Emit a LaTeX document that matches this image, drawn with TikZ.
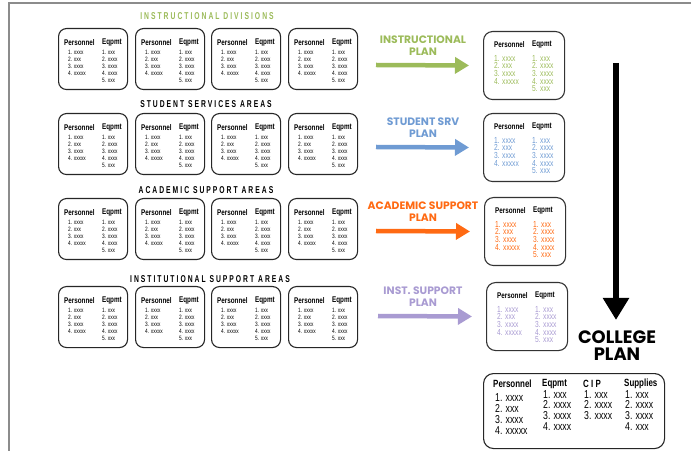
\documentclass[tikz,border=0pt]{standalone}
\usepackage{fontspec}
\usepackage{tikz}
\usetikzlibrary{arrows.meta}
\setmainfont{Liberation Sans}
\newfontfamily\condfont{Liberation Sans}[FakeStretch=0.76]
\newfontfamily\spacedfont{Liberation Sans}[FakeStretch=0.68, LetterSpace=20]
\newfontfamily\planfont{Poppins}
\definecolor{instgreen}{HTML}{9CBB5A}
\definecolor{srvblue}{HTML}{6F9BD3}
\definecolor{acadorange}{HTML}{FF6A13}
\definecolor{instpurple}{HTML}{A99BD2}
\definecolor{framegray}{HTML}{8C8C8C}

\tikzset{
  areabox/.style={draw=black!85, line width=1.1bp, rounded corners=8bp, minimum width=69bp, minimum height=61bp, anchor=north west, inner sep=0},
  planbox/.style={draw=black!80, line width=1.1bp, rounded corners=9bp, minimum width=81bp, minimum height=68bp, anchor=north west, inner sep=0},
  collegebox/.style={draw=black!85, line width=1.1bp, rounded corners=10bp, minimum width=181bp, minimum height=75bp, anchor=north west, inner sep=0},
  boxhead/.style={inner sep=0, anchor=west, font=\condfont\bfseries\fontsize{8.3}{9}\selectfont},
  smalllist/.style={inner sep=0, anchor=north west, align=left, font=\condfont\fontsize{6.3}{7}\selectfont},
  planlist/.style={inner sep=0, anchor=north west, align=left, font=\condfont\fontsize{8.8}{7.7}\selectfont},
  collegelist/.style={inner sep=0, anchor=north west, align=left, font=\condfont\fontsize{11.5}{11}\selectfont},
  areatitle/.style={inner sep=0, font=\spacedfont\bfseries\fontsize{10}{11}\selectfont},
  plantitle/.style={inner sep=0, align=center, font=\planfont\bfseries\fontsize{10.8}{11.5}\selectfont},
  planarrow/.style={line width=4.5bp, -{Triangle[width=16bp,length=14bp]}, shorten >=14bp},
}

\begin{document}
\begin{tikzpicture}[x=1bp, y={(0bp,-1bp)}]
  \useasboundingbox (0,0) rectangle (691,451);

  % Cadre de la page
  \draw[framegray, line width=1.2bp] (9,451) -- (9,3) -- (691,3);

  % Rangées des secteurs
  \foreach \r/\ty/\tty/\tx/\tcol/\ttl in {
      1/28/16/207/instgreen/INSTRUCTIONAL DIVISIONS,
      2/113/104/206/black/STUDENT SERVICES AREAS,
      3/198/190/206/black/ACADEMIC SUPPORT AREAS,
      4/286/279/210/black/INSTITUTIONAL SUPPORT AREAS} {
    \node[areatitle, text=\tcol] (title-\r) at (\tx,\tty) {\ttl};
    \foreach \c/\bx in {1/58,2/135,3/211,4/288} {
      \node[areabox] (area-\r-\c) at (\bx,\ty) {};
      \node[boxhead] (ap-\r-\c) at (\bx+6,\ty+15) {Personnel};
      \node[boxhead] (ae-\r-\c) at (\bx+44,\ty+15) {Eqpmt};
      \node[smalllist] (al-\r-\c) at (\bx+10,\ty+22) {1. xxxx\\2. xxx\\3. xxxx\\4. xxxxx};
      \node[smalllist] (ar-\r-\c) at (\bx+44,\ty+22) {1. xxx\\2. xxxx\\3. xxxx\\4. xxxx\\5. xxx};
    }
  }

  % Plans et flèches
  \foreach \p/\py/\px/\ax/\pcol/\plab in {
      1/31/483/376/instgreen/INSTRUCTIONAL\\PLAN,
      2/113/483/376/srvblue/STUDENT SRV\\PLAN,
      3/197/484/376/acadorange/ACADEMIC SUPPORT\\PLAN,
      4/282/486/378/instpurple/INST. SUPPORT\\PLAN} {
    \node[planbox] (plan-\p) at (\px,\py) {};
    \node[boxhead] (pp-\p) at (\px+11,\py+14) {Personnel};
    \node[boxhead] (pe-\p) at (\px+49,\py+14) {Eqpmt};
    \node[planlist, text=\pcol] (pl-\p) at (\px+11,\py+24) {1. xxxx\\2. xxx\\3. xxxx\\4. xxxxx};
    \node[planlist, text=\pcol] (pr-\p) at (\px+49,\py+24) {1. xxx\\2. xxxx\\3. xxxx\\4. xxxx\\5. xxx};
    \coordinate (start-\p) at (\ax,\py+34);
    \draw[planarrow, \pcol] (start-\p) -- (plan-\p.west);
    \node[plantitle, text=\pcol] (plab-\p) at (423,\py+14.5) {\plab};
  }

  % Plan du collège
  \node[inner sep=0, align=center, font=\planfont\bfseries\fontsize{18}{17}\selectfont] (college) at (617,346) {COLLEGE\\PLAN};
  \coordinate (ctop) at (616,63);
  \draw[line width=6bp, -{Triangle[width=25bp,length=22bp]}, shorten >=11bp] (ctop) -- (ctop |- college.north);

  \node[collegebox] (cplan) at (483,373) {};
  \node[boxhead, font=\condfont\bfseries\fontsize{10.5}{11}\selectfont] (cp) at (493,384) {Personnel};
  \node[boxhead, font=\condfont\bfseries\fontsize{10.5}{11}\selectfont] (ce) at (542,384) {Eqpmt};
  \node[boxhead, font=\condfont\bfseries\fontsize{10.5}{11}\selectfont] (cc) at (583,384) {C I P};
  \node[boxhead, font=\condfont\bfseries\fontsize{10.5}{11}\selectfont] (cs) at (624,384) {Supplies};
  \node[collegelist, font=\condfont\fontsize{11.5}{11.3}\selectfont] (cpl) at (495,393) {1. xxxx\\2. xxx\\3. xxxx\\4. xxxxx};
  \node[collegelist, font=\condfont\fontsize{11.5}{10.7}\selectfont] (cel) at (543,390) {1. xxx\\2. xxxx\\3. xxxx\\4. xxxx};
  \node[collegelist, font=\condfont\fontsize{11.5}{10.7}\selectfont] (ccl) at (584,390) {1. xxx\\2. xxxx\\3. xxxx};
  \node[collegelist, font=\condfont\fontsize{11.5}{10.7}\selectfont] (csl) at (625,390) {1. xxx\\2. xxxx\\3. xxxx\\4. xxx};
\end{tikzpicture}
\end{document}
